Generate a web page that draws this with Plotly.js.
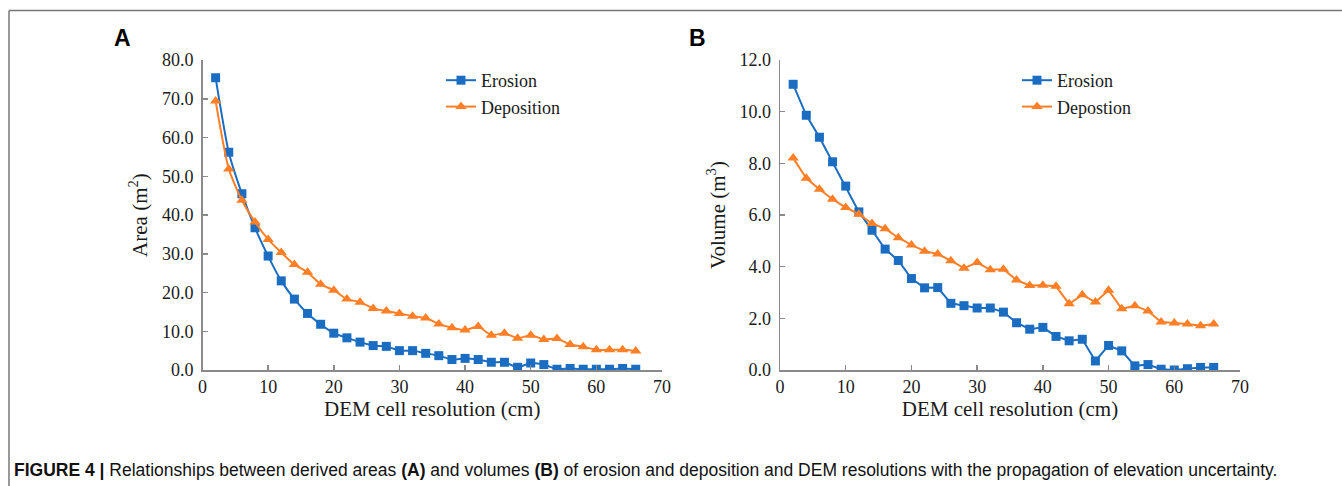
<!DOCTYPE html>
<html>
<head>
<meta charset="utf-8">
<script src="https://cdn.plot.ly/plotly-3.0.1.min.js"></script>
<style>
  html, body { margin: 0; padding: 0; background: #ffffff; }
  #chart { width: 1342px; height: 486px; }
</style>
</head>
<body>
<div id="chart"></div>
<script>
// ---- Data ----
const resolution = [2, 4, 6, 8, 10, 12, 14, 16, 18, 20, 22, 24, 26, 28, 30, 32, 34,
                    36, 38, 40, 42, 44, 46, 48, 50, 52, 54, 56, 58, 60, 62, 64, 66];

const erosionArea = [75.4, 56.2, 45.5, 36.7, 29.4, 23.0, 18.3, 14.6, 11.8, 9.5, 8.3,
                     7.2, 6.3, 6.1, 5.0, 5.0, 4.3, 3.7, 2.7, 3.0, 2.7, 2.0, 2.0, 0.7,
                     1.8, 1.4, 0.2, 0.4, 0.2, 0.2, 0.2, 0.4, 0.2];
const depositionArea = [69.4, 51.9, 43.8, 38.2, 33.7, 30.3, 27.2, 25.2, 22.1, 20.6, 18.3,
                        17.5, 15.9, 15.2, 14.6, 13.9, 13.4, 11.9, 10.9, 10.3, 11.2, 9.0,
                        9.5, 8.2, 9.0, 7.9, 8.1, 6.6, 6.0, 5.2, 5.2, 5.2, 4.9];

const erosionVolume = [11.06, 9.86, 9.01, 8.06, 7.12, 6.12, 5.41, 4.68, 4.24, 3.54, 3.18,
                       3.19, 2.58, 2.49, 2.40, 2.40, 2.24, 1.83, 1.58, 1.65, 1.30, 1.13,
                       1.19, 0.35, 0.95, 0.74, 0.16, 0.21, 0.03, 0.0, 0.05, 0.10, 0.10];
const depositionVolume = [8.21, 7.42, 7.00, 6.61, 6.29, 6.03, 5.67, 5.47, 5.12, 4.84, 4.60,
                          4.49, 4.23, 3.94, 4.16, 3.88, 3.90, 3.48, 3.27, 3.28, 3.24, 2.56,
                          2.91, 2.63, 3.09, 2.37, 2.49, 2.28, 1.86, 1.82, 1.78, 1.71, 1.78];

const xTickVals = [0, 10, 20, 30, 40, 50, 60, 70];
const areaTickVals = [0, 10, 20, 30, 40, 50, 60, 70, 80];
const volumeTickVals = [0, 2, 4, 6, 8, 10, 12];

const namesA = ["Erosion", "Deposition"];
const namesB = ["Erosion", "Depostion"];
const xTitle = "DEM cell resolution (cm)";
const yTitleA = "Area (m<sup>2</sup>)";
const yTitleB = "Volume (m<sup>3</sup>)";
const caption = "<b>FIGURE 4 |</b> Relationships between derived areas <b>(A)</b> and volumes <b>(B)</b> of erosion and deposition and DEM resolutions with the propagation of elevation uncertainty.";

// ---- Styling ----
const W = 1342, H = 486;
const BLUE = "#1B6DC1";
const ORANGE = "#FF7F27";
const AXIS = "#8a8a8a";
const SERIF = "'Liberation Serif', 'Times New Roman', serif";
const SANS = "'Liberation Sans', Arial, sans-serif";

const px = v => v / W;
const py = v => 1 - v / H;

const yDomain = [py(370), py(60)];

function xAxis(domain, anchor) {
  return {
    domain: domain, anchor: anchor, range: [0, 70], tickvals: xTickVals,
    showgrid: false, zeroline: false, showline: true, linecolor: AXIS, linewidth: 1.5,
    ticks: "inside", ticklen: 5, tickcolor: AXIS, tickwidth: 1.5,
    tickfont: {family: SERIF, size: 18, color: "#1a1a1a"},
    title: {text: xTitle, font: {family: SERIF, size: 21, color: "#1a1a1a"}, standoff: 4},
    fixedrange: true
  };
}
function yAxis(range, tickvals, title, anchor) {
  return {
    domain: yDomain, anchor: anchor, range: range, tickvals: tickvals, tickformat: ".1f",
    showgrid: false, zeroline: false, showline: true, linecolor: AXIS, linewidth: 1.5,
    ticks: "inside", ticklen: 5, tickcolor: AXIS, tickwidth: 1.5,
    ticklabelstandoff: 4,
    tickfont: {family: SERIF, size: 18, color: "#1a1a1a"},
    title: {text: title, font: {family: SERIF, size: 21, color: "#1a1a1a"}, standoff: 8},
    fixedrange: true
  };
}

const traces = [
  {x: resolution, y: erosionArea, name: namesA[0], type: "scatter", mode: "lines+markers",
   xaxis: "x", yaxis: "y", legend: "legend",
   line: {color: BLUE, width: 2, shape: "spline", smoothing: 0.6},
   marker: {symbol: "square", size: 9, color: BLUE}},
  {x: resolution, y: depositionArea, name: namesA[1], type: "scatter", mode: "lines+markers",
   xaxis: "x", yaxis: "y", legend: "legend",
   line: {color: ORANGE, width: 2, shape: "spline", smoothing: 0.6},
   marker: {symbol: "triangle-up", size: 10, color: ORANGE}},
  {x: resolution, y: erosionVolume, name: namesB[0], type: "scatter", mode: "lines+markers",
   xaxis: "x2", yaxis: "y2", legend: "legend2",
   line: {color: BLUE, width: 2},
   marker: {symbol: "square", size: 9, color: BLUE}},
  {x: resolution, y: depositionVolume, name: namesB[1], type: "scatter", mode: "lines+markers",
   xaxis: "x2", yaxis: "y2", legend: "legend2",
   line: {color: ORANGE, width: 2},
   marker: {symbol: "triangle-up", size: 10, color: ORANGE}}
];

const legendStyle = {
  font: {family: SERIF, size: 18, color: "#1a1a1a"},
  bgcolor: "rgba(0,0,0,0)", borderwidth: 0,
  xanchor: "left", yanchor: "top", itemwidth: 30, tracegroupgap: 0
};

const layout = {
  width: W, height: H,
  margin: {l: 0, r: 0, t: 0, b: 0},
  paper_bgcolor: "#ffffff", plot_bgcolor: "#ffffff",
  showlegend: true,
  xaxis: xAxis([px(202.5), px(662)], "y"),
  yaxis: yAxis([0, 80], areaTickVals, yTitleA, "x"),
  xaxis2: xAxis([px(780), px(1240)], "y2"),
  yaxis2: yAxis([0, 12], volumeTickVals, yTitleB, "x2"),
  legend: Object.assign({x: px(441), y: py(62)}, legendStyle),
  legend2: Object.assign({x: px(1017), y: py(62)}, legendStyle),
  annotations: [
    {text: "<b>A</b>", xref: "paper", yref: "paper", x: px(122), y: py(38),
     xanchor: "center", yanchor: "middle", showarrow: false,
     font: {family: SANS, size: 23, color: "#000"}},
    {text: "<b>B</b>", xref: "paper", yref: "paper", x: px(697), y: py(38),
     xanchor: "center", yanchor: "middle", showarrow: false,
     font: {family: SANS, size: 23, color: "#000"}},
    {text: caption, xref: "paper", yref: "paper", x: px(12), y: py(470),
     xanchor: "left", yanchor: "middle", showarrow: false,
     font: {family: SANS, size: 17.5, color: "#111"}}
  ],
  shapes: [
    {type: "line", xref: "paper", yref: "paper", x0: px(9), x1: 1, y0: py(10.5), y1: py(10.5),
     line: {color: "#777777", width: 1.5}},
    {type: "line", xref: "paper", yref: "paper", x0: px(9), x1: px(9), y0: 0, y1: py(10.5),
     line: {color: "#777777", width: 1.5}}
  ]
};

Plotly.newPlot("chart", traces, layout, {displayModeBar: false, staticPlot: true});
</script>
</body>
</html>
